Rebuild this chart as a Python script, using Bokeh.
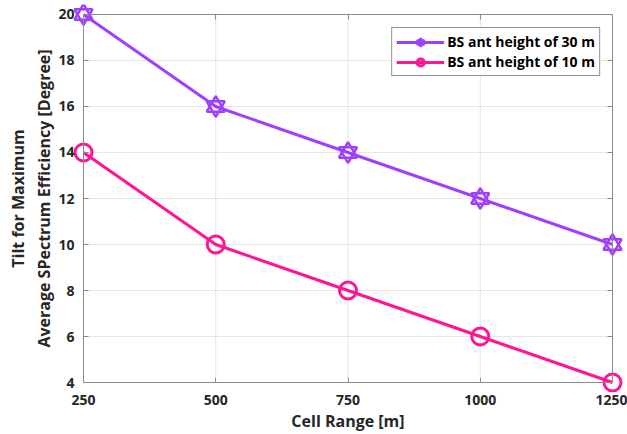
from bokeh.plotting import figure
from bokeh.models import Legend, LegendItem, FixedTicker, LinearAxis, Range1d
from bokeh.embed import file_html
from bokeh.resources import INLINE

cell_range = [250, 500, 750, 1000, 1250]
tilt_30m = [20, 16, 14, 12, 10]
tilt_10m = [14, 10, 8, 6, 4]
x_ticks = [250, 500, 750, 1000, 1250]
y_ticks = [4, 6, 8, 10, 12, 14, 16, 18, 20]
x_lim = (250, 1250)
y_lim = (4, 20)

purple = "#A040FF"
pink = "#FF1493"
FONT = "Open Sans"
GRAY = "#8c8c8c"

# small padding so that markers on the box edges are not clipped
xpad = 20.8
ypad = 0.434
p = figure(width=627, height=434, output_backend="svg", toolbar_location=None,
           x_range=Range1d(x_lim[0] - xpad, x_lim[1] + xpad),
           y_range=Range1d(y_lim[0] - ypad, y_lim[1] + ypad),
           x_axis_location=None, y_axis_location=None,
           min_border_left=72, min_border_right=4, min_border_top=4, min_border_bottom=41)
p.background_fill_color = "white"
p.border_fill_color = "white"
p.outline_line_color = None
p.xgrid.visible = False
p.ygrid.visible = False

# grid lines inside the box, from the tick lists
p.segment(x0=x_ticks, y0=[y_lim[0]] * len(x_ticks), x1=x_ticks, y1=[y_lim[1]] * len(x_ticks),
          line_color="#e6e6e6", line_width=1)
p.segment(x0=[x_lim[0]] * len(y_ticks), y0=y_ticks, x1=[x_lim[1]] * len(y_ticks), y1=y_ticks,
          line_color="#e6e6e6", line_width=1)

def style_labels(ax):
    ax.major_label_text_font = FONT
    ax.major_label_text_font_style = "bold"
    ax.major_label_text_font_size = "14px"
    ax.major_label_text_color = "#262626"
    ax.axis_label_text_font = FONT
    ax.axis_label_text_font_style = "bold"
    ax.axis_label_text_font_size = "16px"
    ax.axis_label_text_color = "#262626"
    ax.axis_line_color = None
    ax.major_tick_line_color = None
    ax.minor_tick_line_color = None

def box_axis(ticks, bounds, loc):
    ax = LinearAxis(ticker=FixedTicker(ticks=ticks), bounds=bounds, fixed_location=loc)
    ax.axis_line_color = GRAY
    ax.major_tick_line_color = GRAY
    ax.major_tick_in = 5
    ax.major_tick_out = 0
    ax.minor_tick_line_color = None
    ax.major_label_text_font_size = "0px"
    ax.major_label_text_color = None
    return ax

# label-only axes at the frame edges
xlab = LinearAxis(ticker=FixedTicker(ticks=x_ticks))
style_labels(xlab)
xlab.axis_label = "Cell Range [m]"
xlab.major_label_standoff = -4
xlab.axis_label_standoff = 2
ylab = LinearAxis(ticker=FixedTicker(ticks=y_ticks))
style_labels(ylab)
ylab.axis_label = "Tilt for Maximum\nAverage SPectrum Efficiency [Degree]"
ylab.major_label_standoff = -8
ylab.axis_label_standoff = 0
p.add_layout(xlab, "below")
p.add_layout(ylab, "left")

# the box with inward ticks
p.add_layout(box_axis(x_ticks, x_lim, y_lim[0]), "below")
p.add_layout(box_axis(y_ticks, y_lim, x_lim[0]), "left")
p.add_layout(box_axis(x_ticks, x_lim, y_lim[1]), "above")
p.add_layout(box_axis(y_ticks, y_lim, x_lim[1]), "right")

l1 = p.line(cell_range, tilt_30m, line_color=purple, line_width=3)
t1 = p.scatter(cell_range, tilt_30m, marker="triangle", size=18, fill_color=None,
               line_color=purple, line_width=2.5)
t2 = p.scatter(cell_range, tilt_30m, marker="inverted_triangle", size=18, fill_color=None,
               line_color=purple, line_width=2.5)
l2 = p.line(cell_range, tilt_10m, line_color=pink, line_width=3)
c2 = p.scatter(cell_range, tilt_10m, marker="circle", size=17, fill_color=None,
               line_color=pink, line_width=3)

legend = Legend(items=[
    LegendItem(label="BS ant height of 30 m", renderers=[l1, t1, t2]),
    LegendItem(label="BS ant height of 10 m", renderers=[l2, c2]),
], location="top_right")
legend.label_text_font = FONT
legend.label_text_font_style = "bold"
legend.label_text_font_size = "14px"
legend.label_text_color = "#000000"
legend.border_line_color = "#262626"
legend.border_line_width = 1
legend.glyph_width = 48
legend.glyph_height = 18
legend.label_height = 18
legend.spacing = 1
legend.padding = 4
legend.margin = 23
legend.label_standoff = 3
p.add_layout(legend)

open("out.html", "w").write(file_html(p, INLINE))
